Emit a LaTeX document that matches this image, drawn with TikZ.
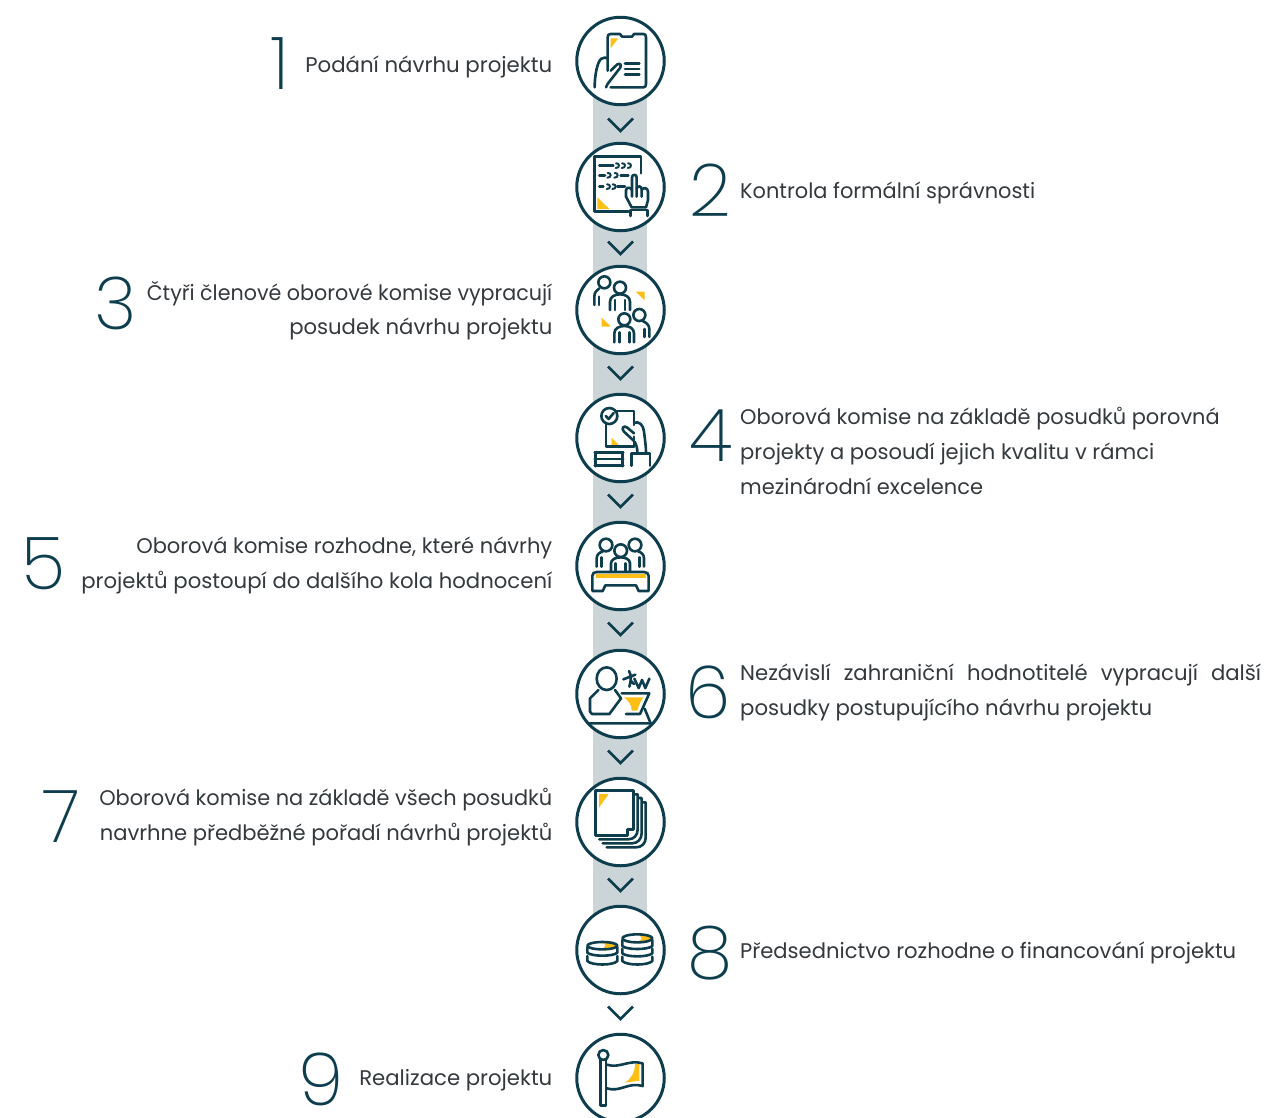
\documentclass[tikz,border=0pt]{standalone}
\usepackage{fontspec}
\usepackage{graphicx}
\setmainfont{Poppins}
\newfontfamily\bigdigit{Poppins ExtraLight}
\definecolor{ink}{HTML}{0E3E4E}
\definecolor{band}{HTML}{CBD5D8}
\definecolor{sun}{HTML}{FDBE16}
\definecolor{txt}{HTML}{33393C}
\newcommand{\fitline}[2]{\resizebox{#1pt}{\height}{#2}}
\tikzset{
  x=1pt,y=-1pt,
  bandline/.style={band,line width=54pt},
  disc/.style={circle,draw=ink,fill=white,line width=3pt,minimum size=87.5pt,inner sep=0pt},
  chevronline/.style={draw=ink,line width=2.6pt},
  ico/.style={draw=ink,line width=2.6pt,line join=round,line cap=round},
  fillsun/.style={fill=sun,draw=none},
  lefttext/.style={anchor=east,align=right,inner sep=0pt,text=txt,font=\fontsize{21.2}{34.6}\selectfont},
  righttext/.style={anchor=west,align=left,inner sep=0pt,text=txt,font=\fontsize{21.2}{34.6}\selectfont},
  numeral/.style={inner sep=0pt,text=ink,font=\fontsize{73}{73}\bigdigit},
  zoomed/.style={x=0.33333pt,y=-0.33333pt}
}
\begin{document}
\begin{tikzpicture}
\useasboundingbox (0,0) rectangle (1265,1117);
\coordinate (bandtop) at (620,61);
\coordinate (bandbot) at (620,950);
\draw[bandline] (bandtop) -- (bandbot);
\node[disc] (c1) at (620.5,61) {};
\node[disc] (c2) at (620.5,187) {};
\node[disc] (c3) at (620.5,310) {};
\node[disc] (c4) at (620.5,438) {};
\node[disc] (c5) at (620.5,566) {};
\node[disc] (c6) at (620.5,694) {};
\node[disc] (c7) at (620.5,822) {};
\node[disc] (c8) at (620.5,950) {};
\node[disc] (c9) at (620.5,1078) {};
% chevrons
\foreach \yy in {125,248,373,501,629,757,885,1013}{
  \draw[chevronline] (608,\yy-6.5) -- (620.5,\yy+6) -- (633,\yy-6.5);
}
% icon 1
\begin{scope}[shift={(560,0)},zoomed]
  \fill[fillsun] (152,115) -- (175,115) -- (152,145) -- cycle;
  \draw[ico] (143,175) -- (143,112) .. controls (143,105) and (146,102) .. (152,102) -- (180,102) -- (186,110) -- (216,110) -- (222,102) -- (250,102) .. controls (256,102) and (258,105) .. (258,112) -- (258,252) .. controls (258,258) and (256,262) .. (250,262) -- (152,262);
  \draw[ico] (104,262) .. controls (104,225) and (112,185) .. (124,176) .. controls (132,171) and (140,172) .. (143,176) -- (143,212);
  \draw[ico] (152,212) -- (172,193) .. controls (180,188) and (186,195) .. (180,204) -- (152,240) .. controls (145,248) and (140,255) .. (138,262);
  \draw[ico] (195,190) -- (238,190) (195,207) -- (238,207) (195,223) -- (238,223);
\end{scope}
% icon 2
\begin{scope}[shift={(560,0)},zoomed]
  \fill[fillsun] (112,592) -- (148,627) -- (112,627) -- cycle;
  \draw[ico] (243,520) -- (243,470) -- (103,470) -- (103,635) -- (205,635);
  \draw[ico] (118,497) -- (160,497) (118,526) -- (135,526) (182,526) -- (205,526) (118,560) -- (130,560) (172,560) -- (195,560);
  \foreach \px/\py in {172/497,190/497,208/497,147/526,168/526,145/560,162/560}{
    \draw[ico,line width=2pt] (\px-4,\py-7) .. controls (\px+8,\py-9) and (\px+8,\py+8) .. (\px-5,\py+7);
  }
  \draw[ico] (216,590) -- (216,532) .. controls (216,522) and (230,522) .. (230,532) -- (230,590);
  \draw[ico] (230,565) .. controls (234,556) and (245,558) .. (245,568) -- (245,590);
  \draw[ico] (245,570) .. controls (250,560) and (264,564) .. (264,575) -- (264,600) -- (258,622) -- (215,622) -- (198,590) -- (198,570) .. controls (200,560) and (212,562) .. (216,570);
  \draw[ico] (212,648) -- (212,630) -- (262,630) -- (262,648);
\end{scope}
% icon 3
\begin{scope}[shift={(560,255)},zoomed]
  \fill[fillsun] (227,110) -- (254,110) -- (254,136) -- cycle;
  \fill[fillsun] (125,188) -- (152,215) -- (125,215) -- cycle;
  \draw[ico] (133,82) circle[radius=18];
  \draw[ico] (180,98) circle[radius=18];
  \draw[ico] (193,193) circle[radius=18];
  \draw[ico] (238,180) circle[radius=18];
  \draw[ico] (103,150) -- (103,125) .. controls (103,112) and (110,105) .. (118,100);
  \draw[ico] (117,125) -- (117,150);
  \draw[ico] (150,165) -- (150,140) .. controls (150,125) and (165,118) .. (180,118) .. controls (195,118) and (210,125) .. (210,140) -- (210,165);
  \draw[ico] (165,135) -- (165,165) (195,135) -- (195,165);
  \draw[ico] (163,262) -- (163,235) .. controls (163,220) and (178,213) .. (193,213) .. controls (208,213) and (222,220) .. (222,235) -- (222,262);
  \draw[ico] (178,232) -- (178,262) (208,232) -- (208,262);
  \draw[ico] (248,198) .. controls (258,202) and (268,210) .. (268,222) -- (268,246);
  \draw[ico] (254,222) -- (254,246);
\end{scope}
% icon 4
\begin{scope}[shift={(560,255)},zoomed]
  \fill[fillsun] (155,548) -- (181,575) -- (155,575) -- cycle;
  \draw[ico] (165,468) -- (222,468) -- (222,510);
  \draw[ico] (138,508) -- (138,575) -- (222,575);
  \draw[ico] (222,545) -- (222,575);
  \draw[ico,fill=white] (148,483) circle[radius=24];
  \draw[ico] (137,483) -- (146,492) -- (161,474);
  \draw[ico] (222,558) -- (192,530) .. controls (182,518) and (192,510) .. (202,518) -- (222,535);
  \draw[ico] (222,503) .. controls (238,498) and (250,510) .. (252,530) .. controls (255,555) and (258,575) .. (258,592);
  \draw[ico] (224,560) .. controls (230,572) and (232,580) .. (232,592);
  \draw[ico] (214,632) -- (214,596) -- (270,596) -- (270,632);
  \draw[ico] (104,592) -- (190,592) (104,612) -- (190,612) (104,632) -- (190,632) (106,592) -- (106,634) (188,592) -- (188,634);
\end{scope}
% icon 5
\begin{scope}[shift={(560,510)},zoomed]
  \fill[fillsun] (107,193) -- (258,193) -- (258,203) -- (107,203) -- cycle;
  \draw[ico] (138,105) circle[radius=19];
  \draw[ico] (225,105) circle[radius=19];
  \draw[ico] (182,122) circle[radius=19];
  \draw[ico] (110,170) -- (110,145) .. controls (110,133) and (120,126) .. (128,125);
  \draw[ico] (124,142) -- (124,170);
  \draw[ico] (252,170) -- (252,145) .. controls (252,133) and (243,126) .. (235,125);
  \draw[ico] (239,142) -- (239,170);
  \draw[ico] (153,183) -- (153,160) .. controls (153,148) and (168,142) .. (182,142) .. controls (196,142) and (210,148) .. (210,160) -- (210,183);
  \draw[ico] (167,160) -- (167,183) (197,160) -- (197,183);
  \draw[ico] (110,186) -- (252,186) .. controls (260,186) and (266,190) .. (266,198) -- (266,243) -- (236,243) -- (228,226) -- (136,226) -- (128,243) -- (97,243) -- (97,198) .. controls (97,190) and (102,186) .. (110,186) -- cycle;
\end{scope}
% icon 6
\begin{scope}[shift={(560,510)},zoomed]
  \fill[fillsun] (192,562) -- (250,562) .. controls (240,575) and (235,590) .. (232,602) -- (215,602) .. controls (216,585) and (205,572) .. (192,562) -- cycle;
  \draw[ico] (140,506) ellipse[x radius=30,y radius=34];
  \draw[ico] (115,540) -- (90,565) -- (90,605) -- (96,612) -- (148,612) -- (183,565) -- (165,540);
  \draw[ico] (185,550) -- (268,550) -- (240,612) -- (198,612);
  \draw[ico] (85,640) -- (272,640) -- (254,596);
  \draw[ico] (190,508) -- (226,494) (207,483) .. controls (214,495) and (214,510) .. (208,530) (212,512) -- (222,522);
  \draw[ico] (223,506) -- (236,534) -- (246,510) -- (256,534) -- (268,506);
\end{scope}
% icon 7
\begin{scope}[shift={(560,770)},zoomed]
  \fill[fillsun] (117,72) -- (146,72) -- (117,113) -- cycle;
  \draw[ico] (107,62) -- (220,62) -- (220,178) -- (202,178) -- (202,196) -- (107,196) -- cycle;
  \draw[ico] (224,73) -- (233,73) -- (233,178) .. controls (233,195) and (222,208) .. (205,208) -- (118,208);
  \draw[ico] (236,84) -- (245,84) -- (245,190) .. controls (245,207) and (233,220) .. (216,220) -- (128,220);
  \draw[ico] (248,97) -- (257,97) -- (257,203) .. controls (257,220) and (245,232) .. (228,232) -- (140,232);
\end{scope}
% icon 8
\begin{scope}[shift={(560,770)},zoomed]
  \fill[fillsun] (125,516) .. controls (150,516) and (170,520) .. (170,527) .. controls (160,535) and (140,537) .. (125,537) .. controls (140,530) and (140,522) .. (125,516) -- cycle;
  \fill[fillsun] (235,495) .. controls (255,495) and (275,500) .. (275,506) .. controls (265,513) and (250,515) .. (235,515) .. controls (248,510) and (248,500) .. (235,495) -- cycle;
  \draw[ico] (127,527) ellipse[x radius=45,y radius=11];
  \draw[ico] (232,505) ellipse[x radius=45,y radius=12];
  \draw[ico] (82,532) -- (82,548) .. controls (95,560) and (160,560) .. (172,548) -- (172,532);
  \draw[ico] (82,558) -- (82,573) .. controls (95,587) and (160,587) .. (172,573) -- (172,558);
  \draw[ico] (187,510) -- (187,528) .. controls (200,540) and (264,540) .. (277,528) -- (277,510);
  \draw[ico] (187,536) -- (187,550) .. controls (200,562) and (264,562) .. (277,550) -- (277,536);
  \draw[ico] (187,560) -- (187,573) .. controls (200,587) and (264,587) .. (277,573) -- (277,560);
\end{scope}
% icon 9
\begin{scope}[shift={(560,770)},zoomed]
  \fill[fillsun] (225,882) -- (238,882) -- (238,932) -- (195,938) .. controls (215,925) and (225,905) .. (225,882) -- cycle;
  \draw[ico] (130,855) circle[radius=15];
  \draw[ico] (122,871) -- (122,1007) -- (138,1007) -- (138,871);
  \draw[ico] (140,884) .. controls (180,896) and (205,868) .. (248,880) -- (248,948) .. controls (205,935) and (180,968) .. (140,955);
\end{scope}
% texts
\node[lefttext] (t1) at (552.5,67) {\fitline{247}{Podání návrhu projektu}};
\node[righttext] (t2) at (740,193) {\fitline{295}{Kontrola formální správnosti}};
\node[lefttext] (t3) at (552.5,310.5) {\fitline{405.5}{Čtyři členové oborové komise vypracují}\\\fitline{263}{posudek návrhu projektu}};
\node[righttext] (t4) at (740,451) {\fitline{479.5}{Oborová komise na základě posudků porovná}\\\fitline{414}{projekty a posoudí jejich kvalitu v rámci}\\\fitline{243}{mezinárodní excelence}};
\node[lefttext] (t5) at (552.5,565.5) {\fitline{416}{Oborová komise rozhodne, které návrhy}\\\fitline{471}{projektů postoupí do dalšího kola hodnocení}};
\node[righttext] (t6) at (740,692.5) {\hbox to 521pt{Nezávislí\hfill zahraniční\hfill hodnotitelé\hfill vypracují\hfill další}\\\fitline{412}{posudky postupujícího návrhu projektu}};
\node[lefttext] (t7) at (552.5,817) {\fitline{453}{Oborová komise na základě všech posudků}\\\fitline{452.5}{navrhne předběžné pořadí návrhů projektů}};
\node[righttext] (t8) at (740,953) {\fitline{496}{Předsednictvo rozhodne o financování projektu}};
\node[lefttext] (t9) at (552.5,1080) {\fitline{193}{Realizace projektu}};
% numerals
\node[numeral] (n1) at (280,64) {1};
\node[numeral] (n2) at (710,190) {2};
\node[numeral] (n3) at (116,303) {3};
\node[numeral] (n4) at (711,436) {4};
\node[numeral] (n5) at (44,564) {5};
\node[numeral] (n6) at (708,692) {6};
\node[numeral] (n7) at (61,817) {7};
\node[numeral] (n8) at (710,953) {8};
\node[numeral] (n9) at (321,1079.5) {9};
\end{tikzpicture}
\end{document}
